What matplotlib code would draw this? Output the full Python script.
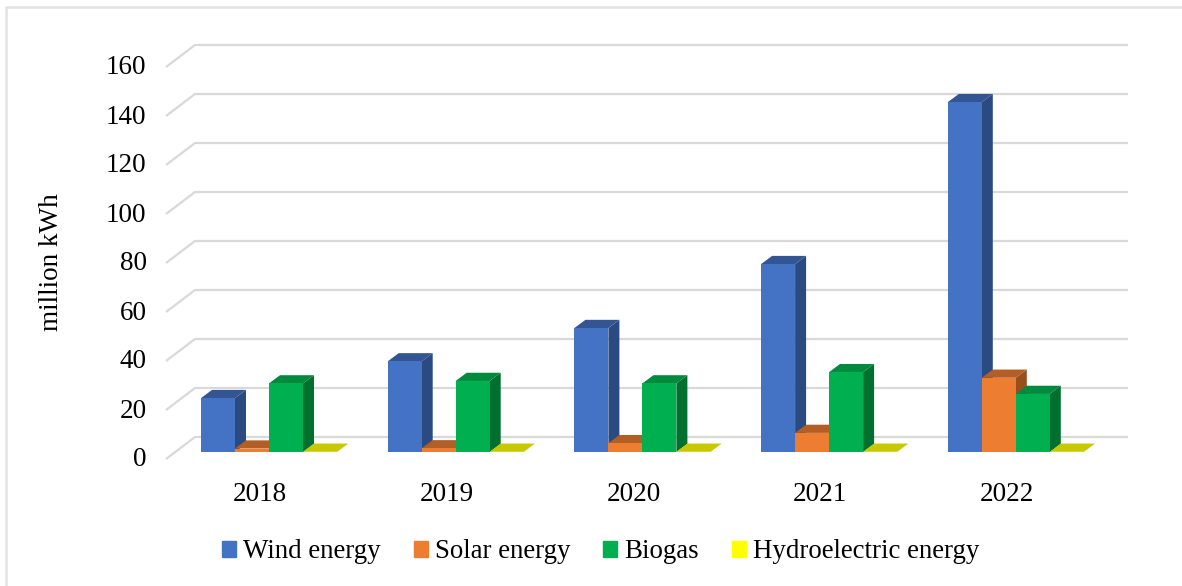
import matplotlib
matplotlib.use("Agg")
import numpy as np
import matplotlib.pyplot as plt
from matplotlib.lines import Line2D
from matplotlib.patches import Patch
from matplotlib.transforms import ScaledTranslation

plt.rcParams['font.family'] = ['Liberation Serif', 'DejaVu Serif']

years = ['2018', '2019', '2020', '2021', '2022']
wind = [22, 37, 50.6, 76.7, 142.8]
solar = [1.4, 1.5, 3.6, 7.8, 30.3]
biogas = [28, 29, 28, 32.6, 23.7]
hydro = [0.1, 0.1, 0.1, 0.1, 0.1]
y_ticks = [0, 20, 40, 60, 80, 100, 120, 140, 160]

W, H = 1182, 586
# px sizes of the fake 3d look
px_x = 186.7
px_y = 2.45
left, right, top, bottom = 166, 1128, 44, 459
base_px = 452
center_px = 269

fig = plt.figure(figsize=(W/100, H/100), dpi=100)
ax = fig.add_axes([left/W, 1-bottom/H, (right-left)/W, (bottom-top)/H])
ax.set_xlim((left-center_px)/px_x, (right-center_px)/px_x)
ax.set_ylim(-(bottom-base_px)/px_y, (base_px-top)/px_y)
front_off = (bottom-base_px)/px_y

# gridlines, slanted part then along the back wall
grid_dx = 29/px_x
grid_dy = 22/px_y
x0 = ax.get_xlim()[0]
x1 = ax.get_xlim()[1]
for v in y_ticks:
    yy = v-front_off
    ax.plot([x0, x0+grid_dx, x1], [yy, yy+grid_dy, yy+grid_dy], color='#d9d9d9', lw=1.6, zorder=1, clip_on=False, solid_capstyle='butt')

bar_w = 34/px_x
dx = 11/px_x
dy = 8.2/px_y
series = [
    (wind, '#4472C4', '#335593', '#2B4A82'),
    (solar, '#ED7D31', '#B35E25', '#984F1E'),
    (biogas, '#00B050', '#008A3E', '#00702F'),
    (hydro, '#FFFF00', '#C8C800', '#A0A000'),
]
x = np.arange(len(years))
z = 2
for k in range(4):
    vals, front, top_c, side = series[k]
    xs = x+(k-1.5)*bar_w
    ax.bar(xs, vals, bar_w, color=front, zorder=z+2, linewidth=0)
    for i in range(len(vals)):
        xl = xs[i]-bar_w/2
        xr = xs[i]+bar_w/2
        v = vals[i]
        ax.fill([xr, xr+dx, xr+dx, xr], [0, dy, v+dy, v], color=side, lw=0, zorder=z)
        ax.fill([xl, xr, xr+dx, xl+dx], [v, v, v+dy, v+dy], color=top_c, lw=0, zorder=z+1)
    z += 3

ax.set_xticks(x-9/px_x)
ax.set_xticklabels(years, fontsize=19.5)
ax.set_yticks([v-front_off for v in y_ticks])
ax.set_yticklabels(y_ticks, fontsize=19.5)
ax.tick_params(axis='both', length=0)
ax.tick_params(axis='x', pad=16.5)
ax.tick_params(axis='y', pad=14)
for lab in ax.get_yticklabels():
    lab.set_transform(lab.get_transform()+ScaledTranslation(0, 2/100, fig.dpi_scale_trans))
for s in ax.spines.values():
    s.set_visible(False)
ax.patch.set_alpha(0)

fig.text(52/W, 1-262/H, 'million kWh', rotation=90, fontsize=19.5, ha='center', va='center')

handles = [Patch(color=series[k][1]) for k in range(4)]
labels = ['Wind energy', 'Solar energy', 'Biogas', 'Hydroelectric energy']
fig.legend(handles, labels, ncol=4, frameon=False, fontsize=19.4, loc='center',
           bbox_to_anchor=(600.5/W, 1-552/H), handlelength=0.52, handleheight=0.52,
           handletextpad=0.26, columnspacing=1.22, borderpad=0)

# only top and left of the frame show in the picture
fig.add_artist(Line2D([6/W, 6/W, 1], [0, 1-6.5/H, 1-6.5/H], transform=fig.transFigure, color='#e3e3e3', lw=1.8))

plt.savefig('out.png', dpi=100)
